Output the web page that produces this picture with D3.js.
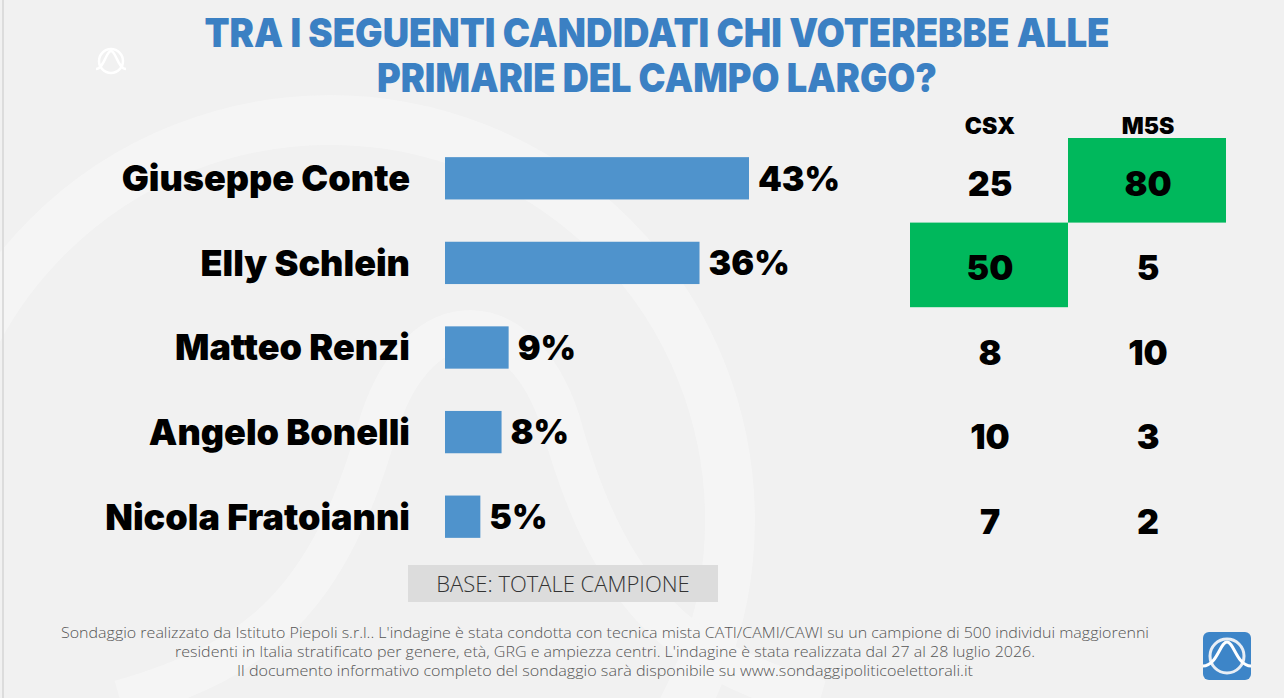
<!DOCTYPE html>
<html>
<head>
<meta charset="utf-8">
<script src="https://cdn.jsdelivr.net/npm/d3@7"></script>
<style>
  html, body { margin: 0; padding: 0; background: #f2f2f2; }
  svg { display: block; }
</style>
</head>
<body>
<svg id="chart"></svg>
<script>
const width = 1284;
const height = 698;

// dati
const candidati = ["Giuseppe Conte", "Elly Schlein", "Matteo Renzi", "Angelo Bonelli", "Nicola Fratoianni"];
const totale = [43, 36, 9, 8, 5];
const colonne = ["CSX", "M5S"];
const csx = [25, 50, 8, 10, 7];
const m5s = [80, 5, 10, 3, 2];
// celle evidenziate (riga, colonna)
const evidenziate = [[0, 1], [1, 0]];

const titolo = ["TRA I SEGUENTI CANDIDATI CHI VOTEREBBE ALLE", "PRIMARIE DEL CAMPO LARGO?"];
const base = "BASE: TOTALE CAMPIONE";
const note = [
  "Sondaggio realizzato da Istituto Piepoli s.r.l.. L'indagine è stata condotta con tecnica mista CATI/CAMI/CAWI su un campione di 500 individui maggiorenni",
  "residenti in Italia stratificato per genere, età, GRG e ampiezza centri. L'indagine è stata realizzata dal 27 al 28 luglio 2026.",
  "Il documento informativo completo del sondaggio sarà disponibile su www.sondaggipoliticoelettorali.it"
];

const blu = "#4f93cc";
const verde = "#00b85c";
const font = "Inter, Lato, 'Noto Sans', sans-serif";

const svg = d3.select("#chart")
  .attr("width", width)
  .attr("height", height);

// sfondo + filigrana
svg.append("rect").attr("width", width).attr("height", height).attr("fill", "#f1f1f1");
const wm = svg.append("g").attr("fill", "none").attr("stroke", "#f6f6f6").attr("opacity", 0.8);
wm.append("circle").attr("cx", 330).attr("cy", 520).attr("r", 400).attr("stroke-width", 50);
wm.append("path")
  .attr("d", "M120,700 C260,660 330,600 380,420 C420,300 520,300 560,420 C610,600 680,660 820,700")
  .attr("stroke-width", 40);
svg.append("line").attr("x1", 3).attr("x2", 3).attr("y1", 0).attr("y2", height)
  .attr("stroke", "#dcdcdc").attr("stroke-width", 2);

// logo bianco in alto a sinistra
const logo1 = svg.append("g").attr("transform", "translate(111,61)")
  .attr("fill", "none").attr("stroke", "#fff").attr("stroke-width", 2.5);
logo1.append("circle").attr("r", 12);
logo1.append("path").attr("d", "M-15,8 C-7,8 -5,-10 0,-10 C5,-10 7,8 15,8");

// titolo
svg.append("g").selectAll("text")
  .data(titolo)
  .join("text")
  .attr("x", 657)
  .attr("y", (d, i) => 47 + i * 45)
  .attr("text-anchor", "middle")
  .attr("font-family", font)
  .attr("font-weight", 900)
  .attr("font-size", 40)
  .attr("fill", "#3b80c3")
  .attr("textLength", (d, i) => i === 0 ? 905 : 560)
  .attr("lengthAdjust", "spacingAndGlyphs")
  .text(d => d);

// scale
const y = d3.scaleBand()
  .domain(candidati)
  .range([136, 559])
  .paddingInner(0.5)
  .paddingOuter(0.25);

const x = d3.scaleLinear()
  .domain([0, 43])
  .range([445, 749]);

const righe = svg.append("g");

righe.selectAll("rect.bar")
  .data(candidati)
  .join("rect")
  .attr("class", "bar")
  .attr("x", x(0))
  .attr("y", d => y(d))
  .attr("width", (d, i) => x(totale[i]) - x(0))
  .attr("height", y.bandwidth())
  .attr("fill", blu);

righe.selectAll("text.nome")
  .data(candidati)
  .join("text")
  .attr("class", "nome")
  .attr("x", 410)
  .attr("y", d => y(d) + y.bandwidth() / 2)
  .attr("dy", "0.36em")
  .attr("text-anchor", "end")
  .attr("font-family", font)
  .attr("font-weight", 900)
  .attr("font-size", 36)
  .attr("fill", "#000")
  .text(d => d);

righe.selectAll("text.perc")
  .data(candidati)
  .join("text")
  .attr("class", "perc")
  .attr("x", (d, i) => x(totale[i]) + 9)
  .attr("y", d => y(d) + y.bandwidth() / 2)
  .attr("dy", "0.36em")
  .attr("font-family", font)
  .attr("font-weight", 900)
  .attr("font-size", 34)
  .attr("fill", "#000")
  .text((d, i) => totale[i] + "%");

// tabella CSX / M5S
const cx = d3.scaleBand()
  .domain(colonne)
  .range([910, 1226]);

const passo = y.step();
const valori = [csx, m5s];

svg.append("g").selectAll("rect")
  .data(evidenziate)
  .join("rect")
  .attr("x", d => cx(colonne[d[1]]))
  .attr("y", d => y(candidati[d[0]]) + y.bandwidth() / 2 - passo / 2 + 2)
  .attr("width", cx.bandwidth())
  .attr("height", passo)
  .attr("fill", verde);

svg.append("g").selectAll("text")
  .data(colonne)
  .join("text")
  .attr("x", d => cx(d) + cx.bandwidth() / 2 + 1)
  .attr("y", 134)
  .attr("text-anchor", "middle")
  .attr("font-family", font)
  .attr("font-weight", 900)
  .attr("font-size", 23)
  .attr("fill", "#000")
  .text(d => d);

colonne.forEach((c, j) => {
  svg.append("g").selectAll("text")
    .data(candidati)
    .join("text")
    .attr("x", cx(c) + cx.bandwidth() / 2 + 1)
    .attr("y", d => y(d) + y.bandwidth() / 2 + 5)
    .attr("dy", "0.36em")
    .attr("text-anchor", "middle")
    .attr("font-family", font)
    .attr("font-weight", 900)
    .attr("font-size", 34)
    .attr("fill", "#000")
    .text((d, i) => valori[j][i]);
});

// base
svg.append("rect").attr("x", 408).attr("y", 565).attr("width", 310).attr("height", 37)
  .attr("fill", "#dcdcdc");
svg.append("text")
  .attr("x", 563).attr("y", 592)
  .attr("text-anchor", "middle")
  .attr("font-family", "'Open Sans', sans-serif")
  .attr("font-weight", 300)
  .attr("font-size", 22)
  .attr("fill", "#333")
  .text(base);

// note metodologiche
svg.append("g").selectAll("text")
  .data(note)
  .join("text")
  .attr("x", 605)
  .attr("y", (d, i) => 638 + i * 19)
  .attr("text-anchor", "middle")
  .attr("font-family", "'Open Sans', sans-serif")
  .attr("font-weight", 300)
  .attr("font-size", 15)
  .attr("fill", "#555")
  .attr("textLength", (d, i) => [1088, 860, 736][i])
  .attr("lengthAdjust", "spacingAndGlyphs")
  .text(d => d);

// logo blu in basso a destra
const logo2 = svg.append("g").attr("transform", "translate(1227,656)");
logo2.append("rect").attr("x", -24).attr("y", -24).attr("width", 48).attr("height", 48)
  .attr("rx", 6).attr("fill", "#3d85c8");
logo2.append("circle").attr("r", 17).attr("fill", "none").attr("stroke", "#e8eef5").attr("stroke-width", 3);
logo2.append("path").attr("d", "M-24,10 C-10,10 -7,-14 0,-14 C7,-14 10,10 24,10")
  .attr("fill", "none").attr("stroke", "#fff").attr("stroke-width", 3);
</script>
</body>
</html>
